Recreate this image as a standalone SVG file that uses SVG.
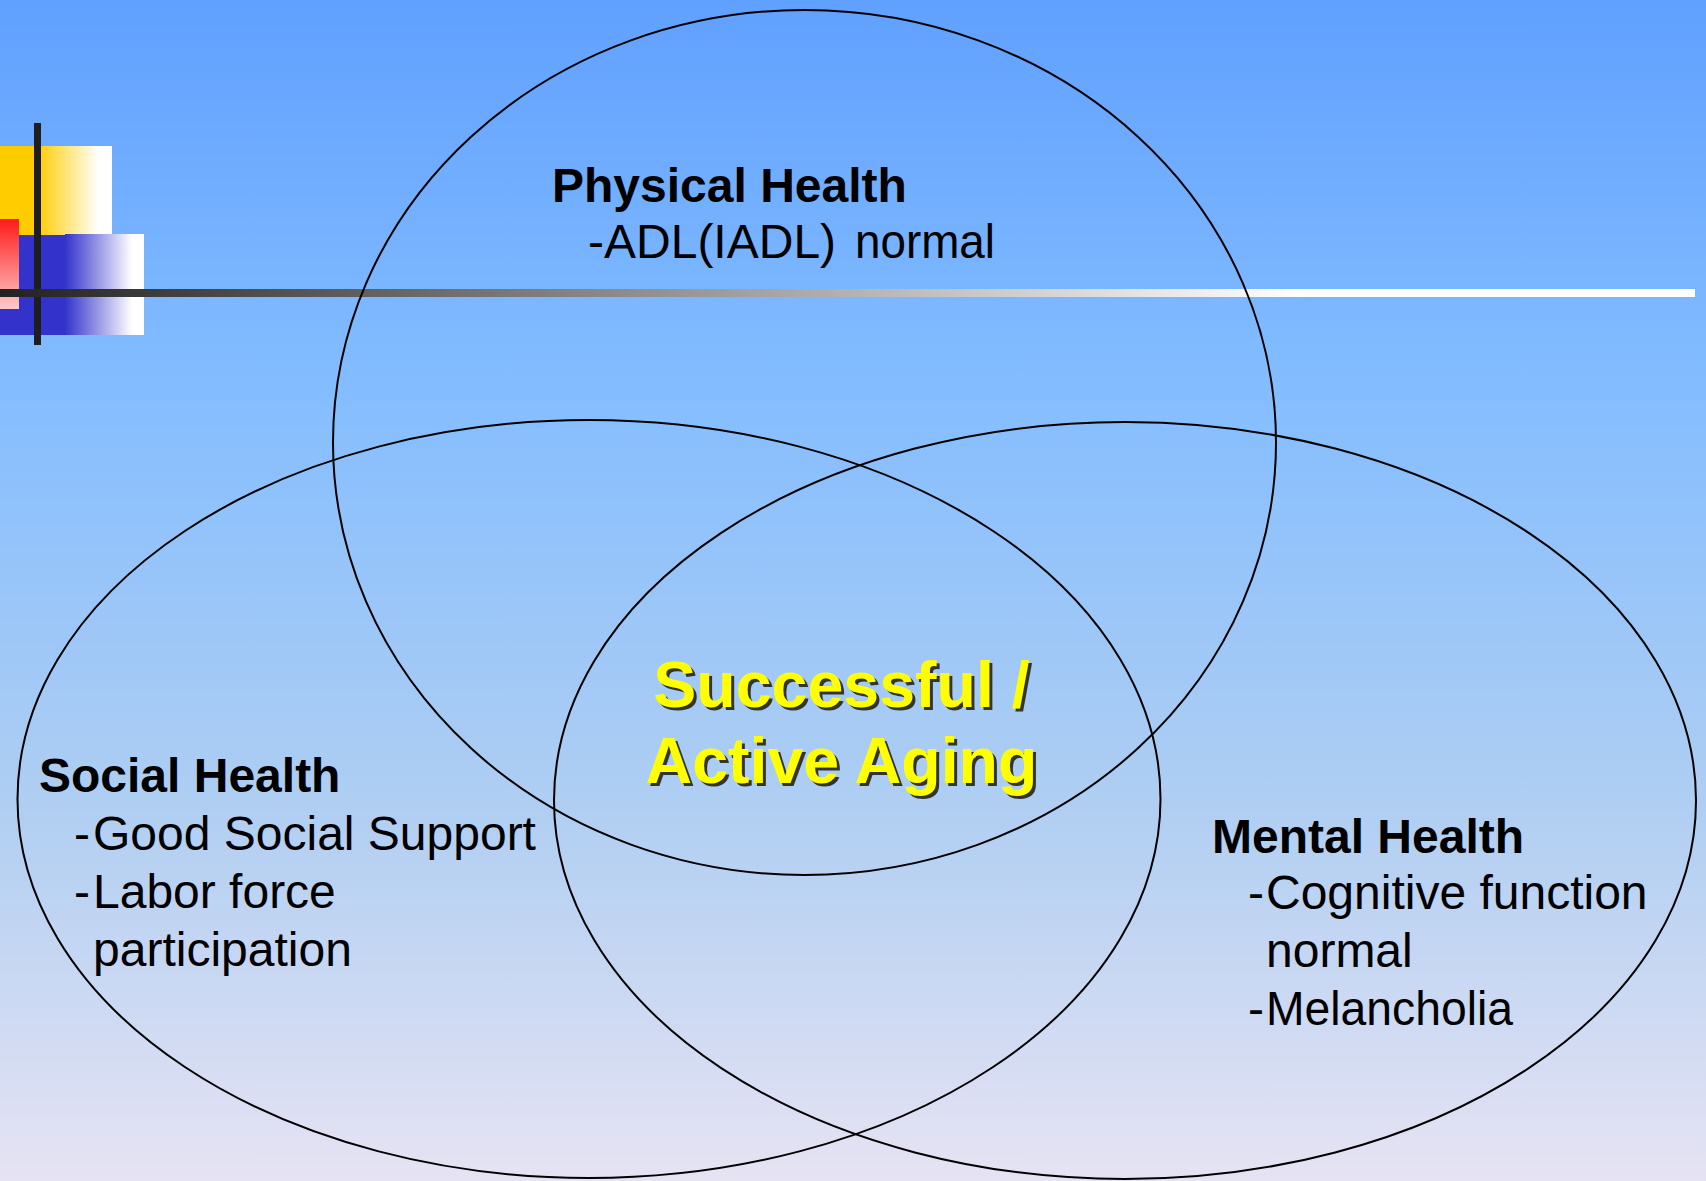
<svg xmlns="http://www.w3.org/2000/svg" width="1706" height="1181" viewBox="0 0 1706 1181">
  <defs>
    <linearGradient id="bg" x1="0" y1="0" x2="0" y2="1">
      <stop offset="0" stop-color="#60A0FF"/>
      <stop offset="0.33" stop-color="#84BDFF"/>
      <stop offset="0.68" stop-color="#AFCEF2"/>
      <stop offset="1" stop-color="#E6E3F3"/>
    </linearGradient>
    <linearGradient id="yellowFade" x1="0" y1="0" x2="1" y2="0">
      <stop offset="0.33" stop-color="#FFCC00"/>
      <stop offset="0.88" stop-color="#FFFFFF"/>
    </linearGradient>
    <linearGradient id="blueFade" x1="0" y1="0" x2="1" y2="0">
      <stop offset="0" stop-color="#3333CC"/>
      <stop offset="0.85" stop-color="#FFFFFF"/>
    </linearGradient>
    <linearGradient id="redFade" x1="0" y1="0" x2="0" y2="1">
      <stop offset="0" stop-color="#FF1A1A"/>
      <stop offset="1" stop-color="#FFC8C8"/>
    </linearGradient>
    <linearGradient id="ruleFade" gradientUnits="userSpaceOnUse" x1="0" y1="0" x2="1300" y2="0">
      <stop offset="0" stop-color="#222222"/>
      <stop offset="1" stop-color="#FFFFFF"/>
    </linearGradient>
    <style>
      .ring { fill: none; stroke: #000000; stroke-width: 2; }
      .head { font-family: "Liberation Sans", Arial, sans-serif; font-weight: bold; font-size: 48px; fill: #000000; }
      .item { font-family: "Liberation Sans", Arial, sans-serif; font-size: 48px; fill: #000000; }
      .core { font-family: "Liberation Sans", Arial, sans-serif; font-weight: bold; font-size: 64.5px; text-anchor: middle; }
      .core-shadow { fill: #333333; }
      .core-face { fill: #FFFF00; }
    </style>
  </defs>

  <!-- backdrop -->
  <rect x="0" y="0" width="1706" height="1181" fill="url(#bg)"/>

  <!-- corner ornament and title rule -->
  <g id="ornament">
    <rect x="0" y="146" width="112" height="89" fill="url(#yellowFade)"/>
    <rect x="0" y="235" width="66" height="100" fill="#3333CC"/>
    <rect x="65" y="234" width="79" height="101" fill="url(#blueFade)"/>
    <rect x="0" y="219" width="19" height="90" fill="url(#redFade)"/>
    <rect x="34" y="123" width="7" height="222" fill="#1E1E1E"/>
    <rect x="0" y="289" width="1695" height="8" fill="url(#ruleFade)"/>
  </g>

  <!-- Physical Health -->
  <g id="physical">
    <ellipse class="ring" cx="804.5" cy="442.5" rx="471.5" ry="432.5"/>
    <text class="head" x="552" y="202">Physical Health</text>
    <text class="item" y="258"><tspan x="588">-</tspan><tspan x="604">ADL(IADL)</tspan><tspan x="855" textLength="140" lengthAdjust="spacingAndGlyphs">normal</tspan></text>
  </g>

  <!-- Social Health -->
  <g id="social">
    <ellipse class="ring" cx="589" cy="799" rx="571.5" ry="379"/>
    <text class="head" x="39" y="792">Social Health</text>
    <text class="item" y="850"><tspan x="74">-</tspan><tspan x="93">Good Social Support</tspan></text>
    <text class="item" y="908"><tspan x="74">-</tspan><tspan x="93">Labor force</tspan></text>
    <text class="item" x="93" y="966">participation</text>
  </g>

  <!-- Mental Health -->
  <g id="mental">
    <ellipse class="ring" cx="1125" cy="800.5" rx="571" ry="378.5"/>
    <text class="head" x="1212" y="853">Mental Health</text>
    <text class="item" y="909"><tspan x="1248">-</tspan><tspan x="1266">Cognitive function</tspan></text>
    <text class="item" x="1266" y="967">normal</text>
    <text class="item" y="1025"><tspan x="1248">-</tspan><tspan x="1266" textLength="247" lengthAdjust="spacingAndGlyphs">Melancholia</tspan></text>
  </g>

  <!-- overlap of all three -->
  <g id="core">
    <text class="core core-shadow" x="844.5" y="710">Successful /</text>
    <text class="core core-shadow" x="844.5" y="786">Active Aging</text>
    <text class="core core-face" x="841.5" y="707">Successful /</text>
    <text class="core core-face" x="841.5" y="783">Active Aging</text>
  </g>
</svg>
